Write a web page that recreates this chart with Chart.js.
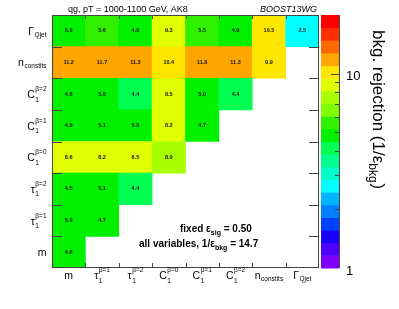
<!DOCTYPE html>
<html>
<head>
<meta charset="utf-8">
<style>
  html, body { margin: 0; padding: 0; background: #fff; }
  #wrap { width: 399px; height: 309px; }
</style>
</head>
<body>
<div id="wrap"><canvas id="myChart" width="399" height="309"></canvas></div>
<script src="https://cdn.jsdelivr.net/npm/chart.js"></script>
<script>
const columns = ['m', 'tau1', 'tau2', 'C0', 'C1', 'C2', 'nconst', 'qjet'];
// label pieces: [main, sub, sup], same order for both axes (bottom->top on y)
const axisLabels = [
  ['m', '', ''],
  ['\u03c4', '1', '\u03b2=1'],
  ['\u03c4', '1', '\u03b2=2'],
  ['C', '1', '\u03b2=0'],
  ['C', '1', '\u03b2=1'],
  ['C', '1', '\u03b2=2'],
  ['n', 'constits', ''],
  ['\u0393', 'Qjet', ''],
];

// rows from bottom to top, values left to right
const rowM = [4.6];
const rowTau1 = [5.0, 4.7];
const rowTau2 = [4.5, 5.1, 4.4];
const rowC0 = [8.6, 8.2, 8.5, 8.0];
const rowC1 = [4.9, 5.1, 5.0, 8.2, 4.7];
const rowC2 = [4.6, 5.0, 4.4, 8.5, 5.0, 4.4];
const rowNconst = [11.2, 11.7, 11.3, 10.4, 11.8, 11.3, 9.9];
const rowQjet = [5.0, 5.6, 4.9, 9.3, 5.5, 4.9, 10.5, 2.5];
const rows = [rowM, rowTau1, rowTau2, rowC0, rowC1, rowC2, rowNconst, rowQjet];

const zMin = 1;
const zMax = 20;
const zTicks = [1, 10];

const palette = [
  '#7f00ff', '#5000ff', '#1800ff', '#0040ff', '#0080ff',
  '#00b4ff', '#00ffff', '#00ffc8', '#00ff8c', '#00ff50',
  '#00f000', '#30f000', '#80ff00', '#a8ff00', '#e0ff00',
  '#ffe600', '#ffa500', '#ff6a00', '#ff3000', '#ff0000'
];

const FONT = '"Liberation Sans", Arial, sans-serif';

function colorFor(v) {
  let k = Math.floor(Math.log(v / zMin) / Math.log(zMax / zMin) * palette.length);
  k = Math.max(0, Math.min(palette.length - 1, k));
  return palette[k];
}

const datasets = rows.map((vals, r) => ({
  data: columns.map((c, i) => (i < vals.length ? [r, r + 1] : null)),
  values: vals,
  backgroundColor: columns.map((c, i) => (i < vals.length ? colorFor(vals[i]) : 'rgba(0,0,0,0)')),
  borderWidth: 0,
  grouped: false,
  barPercentage: 1,
  categoryPercentage: 1,
}));

function drawLabel(ctx, lab, x, cy, align) {
  const [main, sub, sup] = lab;
  const mainFont = '10.5px ' + FONT;
  const smallFont = '6.5px ' + FONT;
  ctx.font = mainFont;
  const wm = ctx.measureText(main).width;
  ctx.font = smallFont;
  const ws = sub ? ctx.measureText(sub).width : 0;
  const wp = sup ? ctx.measureText(sup).width : 0;
  const total = wm + Math.max(ws, wp) + (sub || sup ? 0.5 : 0);
  let x0 = align === 'center' ? x - total / 2 : x - total;
  const base = cy + 4;
  ctx.textAlign = 'left';
  ctx.textBaseline = 'alphabetic';
  ctx.fillStyle = '#000';
  ctx.font = mainFont;
  ctx.fillText(main, x0, base);
  ctx.font = smallFont;
  if (sup) {
    ctx.fillText(sup, x0 + wm + 0.5, base - 7);
    if (sub) ctx.fillText(sub, x0 + wm + 0.5, base + 3.5);
  } else if (sub) {
    ctx.fillText(sub, x0 + wm + 0.5, base + 2);
  }
}

const heatPlugin = {
  id: 'heat',
  afterDraw(chart) {
    const ctx = chart.ctx;
    const area = chart.chartArea;
    const xs = chart.scales.x;
    const ys = chart.scales.y;
    const zs = chart.scales.z;
    ctx.save();

    // cell values
    ctx.font = 'bold 5.5px ' + FONT;
    ctx.fillStyle = '#151515';
    ctx.textAlign = 'center';
    ctx.textBaseline = 'middle';
    chart.data.datasets.forEach((ds, di) => {
      const meta = chart.getDatasetMeta(di);
      meta.data.forEach((el, i) => {
        if (ds.data[i] == null) return;
        ctx.fillText(ds.values[i].toFixed(1), el.x, (el.y + el.base) / 2);
      });
    });

    // frame
    ctx.strokeStyle = '#444';
    ctx.lineWidth = 1;
    ctx.strokeRect(area.left + 0.5, area.top + 0.5, area.right - area.left - 1, area.bottom - area.top - 1);

    // ticks
    const cw = xs.getPixelForValue(1) - xs.getPixelForValue(0);
    ctx.beginPath();
    for (let i = 1; i < columns.length; i++) {
      const px = Math.round(xs.getPixelForValue(i) - cw / 2) + 0.5;
      ctx.moveTo(px, area.bottom); ctx.lineTo(px, area.bottom - 5);
      ctx.moveTo(px, area.top); ctx.lineTo(px, area.top + 4);
    }
    for (let k = 1; k < rows.length; k++) {
      const py = Math.round(ys.getPixelForValue(k)) + 0.5;
      ctx.moveTo(area.left, py); ctx.lineTo(area.left + 10, py);
      ctx.moveTo(area.right, py); ctx.lineTo(area.right - 10, py);
    }
    ctx.stroke();

    // axis labels
    axisLabels.forEach((lab, i) => {
      drawLabel(ctx, lab, xs.getPixelForValue(i), 275, 'center');
      drawLabel(ctx, lab, 46.5, ys.getPixelForValue(i + 0.5), 'right');
    });

    // colour bar
    const cbL = area.right + 2, cbR = area.right + 20;
    const n = palette.length;
    const lr = Math.log10(zMax / zMin);
    for (let k = 0; k < n; k++) {
      const y0 = zs.getPixelForValue(zMin * Math.pow(10, lr * k / n));
      const y1 = zs.getPixelForValue(zMin * Math.pow(10, lr * (k + 1) / n));
      ctx.fillStyle = palette[k];
      ctx.fillRect(cbL, y1, cbR - cbL, y0 - y1 + 0.5);
    }
    ctx.strokeStyle = '#444';
    ctx.beginPath();
    ctx.moveTo(cbR + 0.5, area.top); ctx.lineTo(cbR + 0.5, area.bottom);
    for (let v = 2; v < zMax; v++) {
      if (v > 10 && v % 10 !== 0) continue;
      const py = Math.round(zs.getPixelForValue(v)) + 0.5;
      const len = v === 10 ? 8 : 4;
      ctx.moveTo(cbR, py); ctx.lineTo(cbR - len, py);
    }
    ctx.stroke();
    ctx.fillStyle = '#000';
    ctx.font = '13px ' + FONT;
    ctx.textAlign = 'left';
    ctx.textBaseline = 'middle';
    zTicks.forEach(v => {
      ctx.fillText(String(v), cbR + 7, zs.getPixelForValue(v) + 3);
    });

    // z title, rotated
    ctx.save();
    ctx.translate(373, 30);
    ctx.rotate(Math.PI / 2);
    ctx.textAlign = 'left';
    ctx.textBaseline = 'alphabetic';
    ctx.font = '17px ' + FONT;
    const t1 = 'bkg. rejection (1/\u03b5';
    ctx.fillText(t1, 0, 0);
    let w = ctx.measureText(t1).width;
    ctx.font = '12px ' + FONT;
    ctx.fillText('bkg', w, 4);
    w += ctx.measureText('bkg').width;
    ctx.font = '17px ' + FONT;
    ctx.fillText(')', w + 1, 0);
    ctx.restore();

    // titles
    ctx.textBaseline = 'alphabetic';
    ctx.textAlign = 'left';
    ctx.font = '9px ' + FONT;
    ctx.fillText('qg, pT = 1000-1100 GeV, AK8', 68, 11.5);
    ctx.font = 'italic 9px ' + FONT;
    ctx.fillText('BOOST13WG', 260, 11.5);

    // note text
    function rich(parts, x, y) {
      let cx = x;
      parts.forEach(([txt, sub]) => {
        ctx.font = (sub ? 'bold 7px ' : 'bold 10px ') + FONT;
        ctx.fillText(txt, cx, sub ? y + 3 : y);
        cx += ctx.measureText(txt).width;
      });
    }
    rich([['fixed \u03b5', false], ['sig', true], [' = 0.50', false]], 180, 232);
    rich([['all variables, 1/\u03b5', false], ['bkg', true], [' = 14.7', false]], 139, 247);

    ctx.restore();
  }
};

const config = {
  type: 'bar',
  data: { labels: columns, datasets },
  options: {
    responsive: false,
    animation: false,
    layout: { padding: { left: 52, top: 15, right: 80, bottom: 41 } },
    plugins: { legend: { display: false }, tooltip: { enabled: false } },
    scales: {
      x: { type: 'category', display: false, offset: true },
      y: { type: 'linear', min: 0, max: rows.length, display: false },
      z: { type: 'logarithmic', axis: 'y', position: 'right', min: zMin, max: zMax, display: false },
    },
  },
  plugins: [heatPlugin],
};

var myChart = new Chart(document.getElementById('myChart'), config);
</script>
</body>
</html>
